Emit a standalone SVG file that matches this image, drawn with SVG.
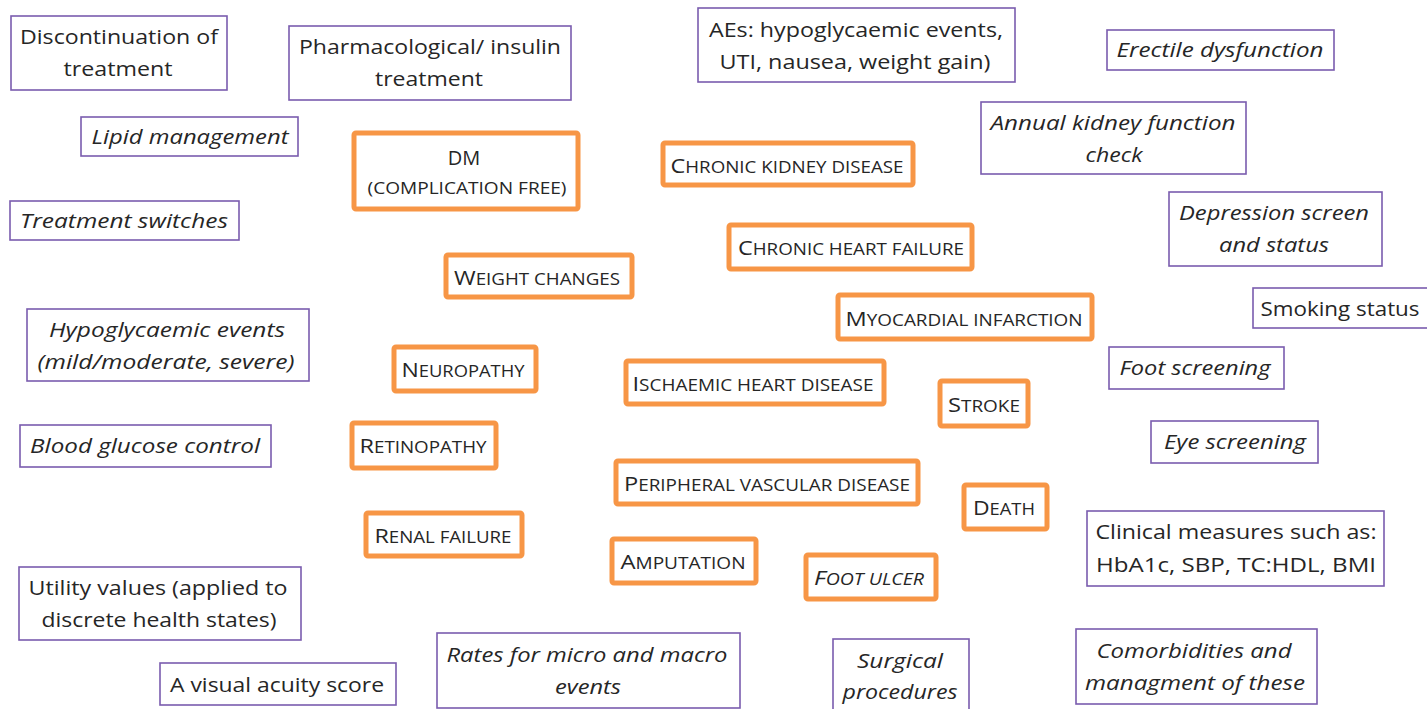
<svg xmlns="http://www.w3.org/2000/svg" width="1427" height="709" viewBox="0 0 1427 709">
<style>
.p{fill:#fff;stroke:#7a5cae;stroke-width:1.6}
.o{fill:#fff;stroke:#f79646;stroke-width:5}
text{font-family:"Open Sans","Liberation Sans",sans-serif;fill:#262626;text-anchor:middle;font-size:20px}
.i{font-style:italic}
.sc{font-size:16px}
.bg{font-size:20px}
</style>
<rect width="1427" height="709" fill="#fff"/>
<g id="connectors"></g>
<g id="disc"><rect class="p" x="11" y="16" width="216" height="74"/><text x="119" y="44" textLength="198" lengthAdjust="spacingAndGlyphs">Discontinuation of</text><text x="118" y="76" textLength="109" lengthAdjust="spacingAndGlyphs">treatment</text></g>
<g id="pharm"><rect class="p" x="289" y="26" width="282" height="74"/><text x="430" y="54" textLength="262" lengthAdjust="spacingAndGlyphs">Pharmacological/ insulin</text><text x="429" y="86" textLength="108" lengthAdjust="spacingAndGlyphs">treatment</text></g>
<g id="aes"><rect class="p" x="698" y="8" width="317" height="74"/><text x="856" y="37" textLength="294" lengthAdjust="spacingAndGlyphs">AEs: hypoglycaemic events,</text><text x="855" y="69" textLength="271" lengthAdjust="spacingAndGlyphs">UTI, nausea, weight gain)</text></g>
<g id="erectile"><rect class="p" x="1107" y="30" width="227" height="40"/><text class="i" x="1220" y="57" textLength="207" lengthAdjust="spacingAndGlyphs">Erectile  dysfunction</text></g>
<g id="lipid"><rect class="p" x="81" y="117" width="217" height="39"/><text class="i" x="190" y="144" textLength="197" lengthAdjust="spacingAndGlyphs">Lipid management</text></g>
<g id="kidneycheck"><rect class="p" x="981" y="102" width="265" height="72"/><text class="i" x="1113" y="130" textLength="245" lengthAdjust="spacingAndGlyphs">Annual kidney function</text><text class="i" x="1114" y="162" textLength="57" lengthAdjust="spacingAndGlyphs">check</text></g>
<g id="switches"><rect class="p" x="10" y="201" width="229" height="39"/><text class="i" x="124" y="228" textLength="208" lengthAdjust="spacingAndGlyphs">Treatment  switches</text></g>
<g id="depression"><rect class="p" x="1169" y="192" width="213" height="74"/><text class="i" x="1274" y="220" textLength="190" lengthAdjust="spacingAndGlyphs">Depression screen</text><text class="i" x="1274" y="252" textLength="110" lengthAdjust="spacingAndGlyphs">and status</text></g>
<g id="smoking"><rect class="p" x="1253" y="288" width="180" height="40"/><text x="1340" y="316" textLength="159" lengthAdjust="spacingAndGlyphs">Smoking status</text></g>
<g id="hypo"><rect class="p" x="27" y="309" width="282" height="72"/><text class="i" x="167" y="337" textLength="236" lengthAdjust="spacingAndGlyphs">Hypoglycaemic events</text><text class="i" x="166" y="369" textLength="257" lengthAdjust="spacingAndGlyphs">(mild/moderate,  severe)</text></g>
<g id="footscreen"><rect class="p" x="1109" y="347" width="175" height="42"/><text class="i" x="1195" y="375" textLength="151" lengthAdjust="spacingAndGlyphs">Foot screening</text></g>
<g id="glucose"><rect class="p" x="20" y="425" width="251" height="42"/><text class="i" x="145" y="453" textLength="230" lengthAdjust="spacingAndGlyphs">Blood glucose control</text></g>
<g id="eye"><rect class="p" x="1151" y="421" width="167" height="42"/><text class="i" x="1235" y="449" textLength="142" lengthAdjust="spacingAndGlyphs">Eye screening</text></g>
<g id="clinical"><rect class="p" x="1087" y="511" width="297" height="75"/><text x="1236" y="539" textLength="281" lengthAdjust="spacingAndGlyphs">Clinical measures such as:</text><text x="1236" y="572" textLength="280" lengthAdjust="spacingAndGlyphs">HbA1c, SBP, TC:HDL,  BMI</text></g>
<g id="utility"><rect class="p" x="19" y="567" width="282" height="73"/><text x="158" y="595" textLength="259" lengthAdjust="spacingAndGlyphs">Utility values (applied to</text><text x="159" y="627" textLength="235" lengthAdjust="spacingAndGlyphs">discrete health states)</text></g>
<g id="visual"><rect class="p" x="160" y="663" width="236" height="42"/><text x="277" y="692" textLength="214" lengthAdjust="spacingAndGlyphs">A visual acuity score</text></g>
<g id="rates"><rect class="p" x="437" y="633" width="303" height="75"/><text class="i" x="587" y="662" textLength="281" lengthAdjust="spacingAndGlyphs">Rates for micro  and macro</text><text class="i" x="588" y="694" textLength="66" lengthAdjust="spacingAndGlyphs">events</text></g>
<g id="surgical"><rect class="p" x="833" y="639" width="136" height="74"/><text class="i" x="900" y="668" textLength="86" lengthAdjust="spacingAndGlyphs">Surgical</text><text class="i" x="900" y="699" textLength="115" lengthAdjust="spacingAndGlyphs">procedures</text></g>
<g id="comorb"><rect class="p" x="1076" y="629" width="241" height="75"/><text class="i" x="1194" y="658" textLength="195" lengthAdjust="spacingAndGlyphs">Comorbidities and</text><text class="i" x="1195" y="690" textLength="220" lengthAdjust="spacingAndGlyphs">managment of these</text></g>

<g id="dm"><rect class="o" x="354" y="133" width="224" height="76" rx="2"/><text x="464" y="165">DM</text><text x="467" y="194" class="sc" textLength="199" lengthAdjust="spacingAndGlyphs">(COMPLICATION FREE)</text></g>
<g id="ckd"><rect class="o" x="663" y="143" width="250" height="42" rx="2"/><text x="787" y="173" class="sc" textLength="233" lengthAdjust="spacingAndGlyphs"><tspan class="bg">C</tspan>HRONIC KIDNEY DISEASE</text></g>
<g id="chf"><rect class="o" x="729" y="225" width="243" height="44" rx="2"/><text x="851" y="255" class="sc" textLength="226" lengthAdjust="spacingAndGlyphs"><tspan class="bg">C</tspan>HRONIC HEART FAILURE</text></g>
<g id="weight"><rect class="o" x="446" y="255" width="186" height="42" rx="2"/><text x="537" y="285" class="sc" textLength="166" lengthAdjust="spacingAndGlyphs"><tspan class="bg">W</tspan>EIGHT CHANGES</text></g>
<g id="mi"><rect class="o" x="838" y="295" width="254" height="44" rx="2"/><text x="964" y="326" class="sc" textLength="237" lengthAdjust="spacingAndGlyphs"><tspan class="bg">M</tspan>YOCARDIAL INFARCTION</text></g>
<g id="neuro"><rect class="o" x="394" y="347" width="142" height="44" rx="2"/><text x="463" y="377" class="sc" textLength="123" lengthAdjust="spacingAndGlyphs"><tspan class="bg">N</tspan>EUROPATHY</text></g>
<g id="ihd"><rect class="o" x="626" y="361" width="258" height="43" rx="2"/><text x="753" y="391" class="sc" textLength="241" lengthAdjust="spacingAndGlyphs"><tspan class="bg">I</tspan>SCHAEMIC HEART DISEASE</text></g>
<g id="stroke"><rect class="o" x="940" y="381" width="88" height="45" rx="2"/><text x="984" y="412" class="sc" textLength="72" lengthAdjust="spacingAndGlyphs"><tspan class="bg">S</tspan>TROKE</text></g>
<g id="retino"><rect class="o" x="352" y="423" width="144" height="45" rx="2"/><text x="423" y="453" class="sc" textLength="127" lengthAdjust="spacingAndGlyphs"><tspan class="bg">R</tspan>ETINOPATHY</text></g>
<g id="pvd"><rect class="o" x="616" y="461" width="302" height="43" rx="2"/><text x="767" y="491" class="sc" textLength="286" lengthAdjust="spacingAndGlyphs"><tspan class="bg">P</tspan>ERIPHERAL VASCULAR DISEASE</text></g>
<g id="death"><rect class="o" x="964" y="485" width="83" height="44" rx="2"/><text x="1004" y="515" class="sc" textLength="62" lengthAdjust="spacingAndGlyphs"><tspan class="bg">D</tspan>EATH</text></g>
<g id="renal"><rect class="o" x="366" y="513" width="156" height="43" rx="2"/><text x="443" y="543" class="sc" textLength="137" lengthAdjust="spacingAndGlyphs"><tspan class="bg">R</tspan>ENAL FAILURE</text></g>
<g id="amput"><rect class="o" x="612" y="539" width="144" height="44" rx="2"/><text x="683" y="569" class="sc" textLength="125" lengthAdjust="spacingAndGlyphs"><tspan class="bg">A</tspan>MPUTATION</text></g>
<g id="footulcer"><rect class="o" x="806" y="555" width="130" height="44" rx="2"/><text x="869" y="585" class="sc i" textLength="110" lengthAdjust="spacingAndGlyphs"><tspan class="bg">F</tspan>OOT ULCER</text></g>
</svg>
